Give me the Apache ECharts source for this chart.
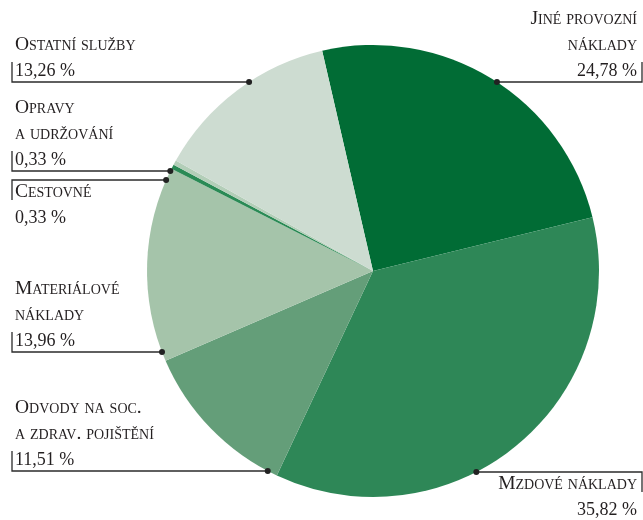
<!DOCTYPE html>
<html>
<head>
<meta charset="utf-8">
<script src="https://cdn.jsdelivr.net/npm/echarts@6/dist/echarts.min.js"></script>
<style>html,body{margin:0;padding:0;background:#fff}#c{width:643px;height:520px}</style>
</head>
<body>
<div id="c"></div>
<script>
// ---- data ----
const categories = ['Jiné provozní\nnáklady', 'Mzdové náklady', 'Odvody na soc.\na zdrav. pojištění', 'Materiálové\nnáklady', 'Cestovné', 'Opravy\na udržování', 'Ostatní služby'];
const values = [24.78, 35.82, 11.51, 13.96, 0.33, 0.33, 13.26];
const colors = ['#016c35', '#2e8757', '#649e79', '#a5c4aa', '#2a8a55', '#b3ceb8', '#cddcd1'];

// ---- label layout (style) ----
const CX = 373, CY = 271, R = 226;
const labelCfg = [
  {side: 'right', lineY: 82,  above: true},
  {side: 'right', lineY: 472, above: false},
  {side: 'left',  lineY: 471, above: true},
  {side: 'left',  lineY: 352, above: true},
  {side: 'left',  lineY: 180, above: false},
  {side: 'left',  lineY: 171, above: true},
  {side: 'left',  lineY: 82,  above: true}
];
const LEFT_TICK = 12, RIGHT_TICK = 642, TICK = 20;
const FONT = 'Liberation Serif';

function fmtVal(v) { return v.toFixed(2).replace('.', ',') + ' %'; }
function dotPoint(i) {
  const c = labelCfg[i];
  const dy = c.lineY - CY;
  const dx = Math.sqrt(Math.max(0, R * R - dy * dy));
  return [c.side === 'left' ? CX - dx : CX + dx, c.lineY];
}

const chart = echarts.init(document.getElementById('c'), null, {renderer: 'canvas'});
chart.setOption({
  animation: false,
  backgroundColor: '#fff',
  graphic: labelCfg.map((c, i) => {
    const p = dotPoint(i);
    return {type: 'circle', shape: {cx: p[0], cy: p[1], r: 3}, style: {fill: '#222'}, z: 100};
  }),
  series: [{
    type: 'pie',
    center: [CX, CY],
    radius: R,
    startAngle: 103,
    clockwise: true,
    avoidLabelOverlap: false,
    itemStyle: {borderWidth: 0},
    emphasis: {disabled: true},
    data: categories.map((n, i) => ({name: n, value: values[i], itemStyle: {color: colors[i]}})),
    label: {
      show: true,
      position: 'outside',
      color: '#231f20',
      formatter: p => p.name.split('\n').map(s => '{n|' + s + '}').join('\n') + '\n{v|' + fmtVal(p.value) + '}',
      rich: {
        n: {fontFamily: FONT, fontSize: 19.5, fontStyle: 'small-caps', lineHeight: 26, color: '#231f20'},
        v: {fontFamily: FONT, fontSize: 18, lineHeight: 26, color: '#231f20'}
      }
    },
    labelLine: {show: true, lineStyle: {color: '#2b2b2b', width: 1.3}},
    labelLayout: function (params) {
      const i = params.dataIndex;
      const c = labelCfg[i];
      const d = dotPoint(i);
      const tx = c.side === 'left' ? LEFT_TICK : RIGHT_TICK;
      const ty = c.above ? c.lineY - TICK : c.lineY + TICK;
      return {
        x: c.side === 'left' ? 15 : 637,
        y: c.above ? c.lineY + 2 : c.lineY - 1,
        align: c.side === 'left' ? 'left' : 'right',
        verticalAlign: c.above ? 'bottom' : 'top',
        labelLinePoints: [d, [tx, c.lineY], [tx, ty]]
      };
    }
  }]
});
</script>
</body>
</html>
